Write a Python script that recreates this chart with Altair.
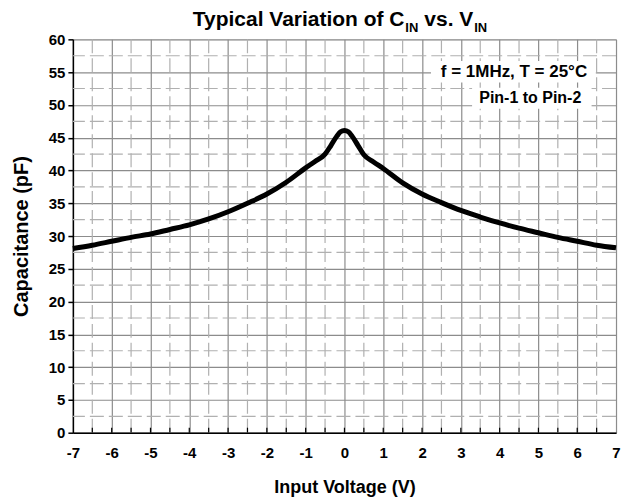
import altair as alt
import pandas as pd

# ---- data ----
voltage = [-7, -6.5, -6, -5.5, -5, -4.5, -4, -3.5, -3, -2.5, -2, -1.5, -1, -0.75, -0.5, -0.35, -0.2, -0.1, 0,
           0.1, 0.2, 0.35, 0.5, 0.75, 1, 1.5, 2, 2.5, 3, 3.5, 4, 4.5, 5, 5.5, 6, 6.5, 7]
capacitance = [28.1, 28.6, 29.2, 29.8, 30.3, 31.0, 31.7, 32.6, 33.7, 35.0, 36.4, 38.2, 40.4, 41.4, 42.5, 43.8, 45.2, 45.9, 46.1,
               45.9, 45.2, 43.8, 42.4, 41.3, 40.3, 38.1, 36.4, 35.1, 33.9, 32.9, 32.0, 31.2, 30.5, 29.8, 29.2, 28.6, 28.2]

x_ticks = [-7, -6, -5, -4, -3, -2, -1, 0, 1, 2, 3, 4, 5, 6, 7]
y_ticks = [0, 5, 10, 15, 20, 25, 30, 35, 40, 45, 50, 55, 60]
x_minor = [-6.5, -5.5, -4.5, -3.5, -2.5, -1.5, -0.5, 0.5, 1.5, 2.5, 3.5, 4.5, 5.5, 6.5]
x_inner_ticks = [-6.5, -6, -5.5, -5, -4.5, -4, -3.5, -3, -2.5, -2, -1.5, -1, -0.5, 0,
                 0.5, 1, 1.5, 2, 2.5, 3, 3.5, 4, 4.5, 5, 5.5, 6, 6.5]
y_minor = [2.5, 7.5, 12.5, 17.5, 22.5, 27.5, 32.5, 37.5, 42.5, 47.5, 52.5, 57.5]

note_texts = ["f = 1MHz, T = 25°C", "Pin-1 to Pin-2"]
note_x = [4.37, 4.79]
note_y = [55, 51]
box_x1 = [2.23, 3.29]
box_x2 = [6.48, 6.37]
box_y1 = [53.4, 49.4]
box_y2 = [56.7, 52.6]

FONT = "Liberation Sans"
W, H = 544, 394

curve_df = pd.DataFrame({"V": voltage, "C": capacitance})
xs = alt.Scale(domain=[-7, 7], nice=False, zero=False)
ys = alt.Scale(domain=[0, 60], nice=False)

base_axis = dict(labelFont=FONT, labelFontWeight="bold", labelFontSize=15, labelColor="black",
                 labelOverlap=False, labelFlush=False,
                 titleFont=FONT, titleFontWeight="bold", titleColor="black",
                 domainColor="black", domainWidth=1.5,
                 gridColor="#8c8c8c", gridWidth=1.2)

x_axis = alt.Axis(values=x_ticks, title="Input Voltage (V)", ticks=False,
                  labelPadding=13, titleFontSize=18, titleY=60,
                  titleBaseline="alphabetic",
                  labelExpr="datum.value + ''", **base_axis)
y_axis = alt.Axis(values=y_ticks, title="Capacitance (pF)", tickSize=5,
                  tickColor="black", tickWidth=1.5, labelPadding=3,
                  titleFontSize=20, titleX=-45, titleY=H / 2,
                  titleBaseline="alphabetic", titleAngle=-90,
                  titleAlign="center",
                  labelExpr="datum.value + ''", **base_axis)


def X(field):
    return alt.X(field, scale=xs, axis=x_axis)


def Y(field):
    return alt.Y(field, scale=ys, axis=y_axis)


line = alt.Chart(curve_df).mark_line(color="black", strokeWidth=5, interpolate="monotone").encode(
    x=X("V:Q"), y=Y("C:Q"))

minor_v = alt.Chart(pd.DataFrame({"V": x_minor})).mark_rule(
    color="#b0b0b0", strokeWidth=1.2, strokeDash=[14, 5]).encode(x=X("V:Q"))
minor_h = alt.Chart(pd.DataFrame({"C": y_minor})).mark_rule(
    color="#b0b0b0", strokeWidth=1.2, strokeDash=[14, 5]).encode(y=Y("C:Q"))

inner_ticks = alt.Chart(pd.DataFrame({"V": x_inner_ticks})).mark_rule(
    color="black", strokeWidth=1.2).encode(x=X("V:Q"), y=alt.value(H), y2=alt.value(H - 5))

boxes = alt.Chart(pd.DataFrame({"x1": box_x1, "x2": box_x2, "y1": box_y1, "y2": box_y2})).mark_rect(
    color="white").encode(x=X("x1:Q"), x2="x2:Q", y=Y("y1:Q"), y2="y2:Q")

notes = alt.Chart(pd.DataFrame({"t": note_texts, "V": note_x, "C": note_y, "s": [17, 16]})).mark_text(
    font=FONT, fontWeight="bold", color="black", baseline="middle", align="center").encode(
    x=X("V:Q"), y=Y("C:Q"), text="t:N",
    size=alt.Size("s:Q", scale=None, legend=None))

one = pd.DataFrame({"a": [0]})


def title_piece(text, x, y, size, align):
    return alt.Chart(one).mark_text(font=FONT, fontWeight="bold", fontSize=size, color="black",
                                    align=align, baseline="alphabetic").encode(
        x=alt.value(x), y=alt.value(y), text=alt.value(text))


titles = [
    title_piece("Typical Variation of C", 332, -13, 21, "right"),
    title_piece("IN", 333, -7, 13, "left"),
    title_piece("vs.", 352, -13, 21, "left"),
    title_piece("V", 387, -13, 21, "left"),
    title_piece("IN", 402, -7, 13, "left"),
]

chart = alt.layer(minor_v, minor_h, boxes, inner_ticks, line, notes, *titles).properties(
    width=W, height=H,
    autosize=alt.AutoSizeParams(type="none"),
    padding={"left": 65, "top": 31, "right": 10, "bottom": 64},
).configure_view(stroke="black", strokeWidth=1.5).configure(background="white")

chart.save("out.html", embed_options={"renderer": "svg", "actions": False})
